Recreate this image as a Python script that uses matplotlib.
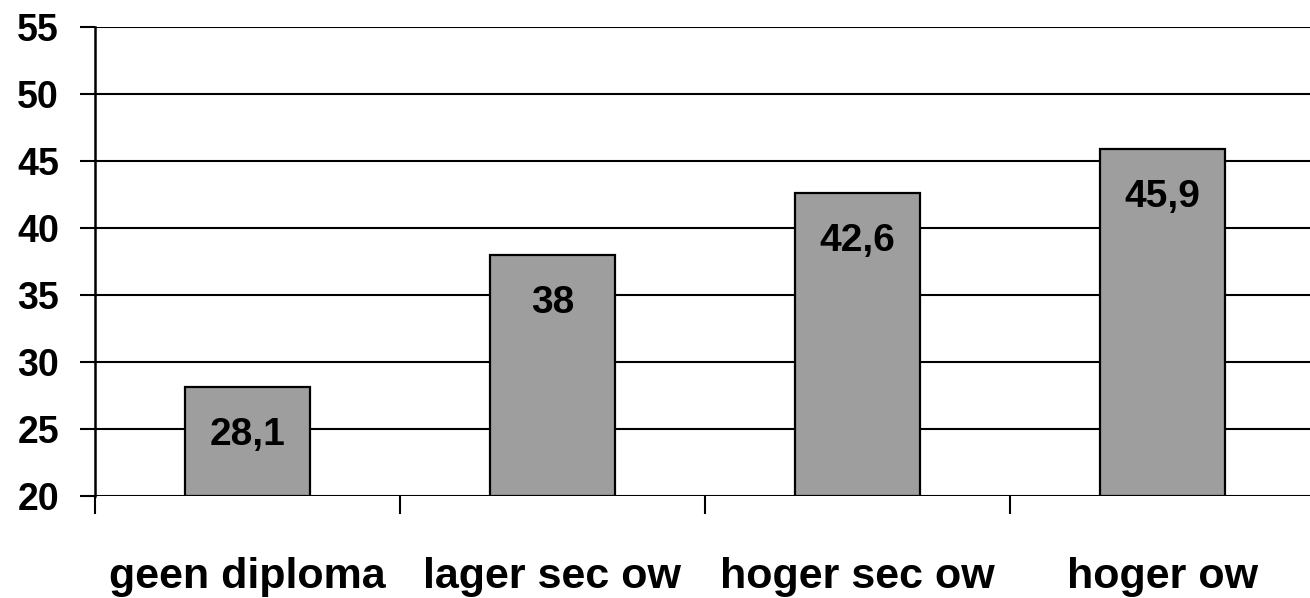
import matplotlib.pyplot as plt
import numpy as np

# opleidingsniveau en gemiddelde waarde
categories = ['geen diploma', 'lager sec ow', 'hoger sec ow', 'hoger ow']
values = [28.1, 38, 42.6, 45.9]
value_labels = ['28,1', '38', '42,6', '45,9']
y_ticks = [20, 25, 30, 35, 40, 45, 50, 55]

plt.rcParams['font.family'] = ['Liberation Sans', 'DejaVu Sans']
plt.rcParams['font.weight'] = 'bold'

fig = plt.figure(figsize=(13.1, 5.98), dpi=100)
ax = fig.add_axes([95 / 1310, 1 - 496 / 598, 1215 / 1310, 469 / 598])

x = np.arange(len(categories))
ax.bar(x, [v - 20 for v in values], bottom=20, width=0.41, color='#9e9e9e',
       edgecolor='black', linewidth=1.6, zorder=3)

for xi, v, lab in zip(x, values, value_labels):
    ax.annotate(lab, xy=(xi, v), xytext=(0, -34.5), textcoords='offset points',
                ha='center', va='center', fontsize=28, fontweight='bold', zorder=4)

ax.set_ylim(20, 55)
ax.set_xlim(-0.5, -0.5 + 1215 / 305)
ax.set_yticks(y_ticks)
ax.yaxis.grid(True, color='black', linewidth=1.5, zorder=0)

ax.set_xticks(x)
ax.set_xticklabels(categories, fontsize=31, fontweight='bold')
ax.set_xticks([-0.5, 0.5, 1.5, 2.5], minor=True)
ax.tick_params(axis='x', which='major', length=0, pad=44)
ax.tick_params(axis='x', which='minor', length=13, width=1.5, direction='out')
ax.tick_params(axis='y', length=11, width=1.5, labelsize=27, pad=15)

for s in ['top', 'right', 'bottom']:
    ax.spines[s].set_visible(False)
ax.spines['left'].set_linewidth(1.8)

fig.savefig('out.png', dpi=100)
